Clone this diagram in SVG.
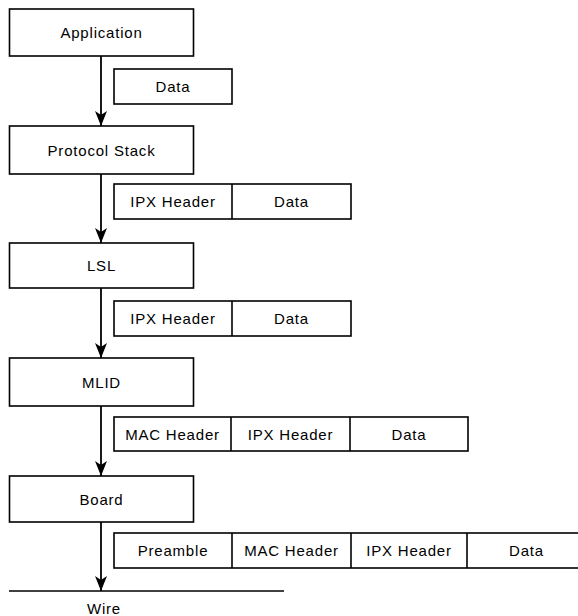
<svg xmlns="http://www.w3.org/2000/svg" width="578" height="616" viewBox="0 0 578 616">
  <style>
    .box { fill: #ffffff; stroke: #000000; stroke-width: 1.6; }
    .div { stroke: #000000; stroke-width: 1.6; fill: none; }
    .lbl { font-family: "Liberation Sans", Arial, sans-serif; font-size: 15px; letter-spacing: 0.8px; fill: #000000; text-anchor: middle; }
    .conn { stroke: #000000; stroke-width: 1.8; fill: none; marker-end: url(#arrow); }
  </style>
  <defs>
    <!-- notched arrowhead; +x follows the line, tip at the line end -->
    <marker id="arrow" markerUnits="userSpaceOnUse" markerWidth="18" markerHeight="14" viewBox="-16 -7 18 14" refX="0" refY="0" orient="auto">
      <path d="M0,0 L-15,-6 L-11,0 L-15,6 Z" fill="#000000"/>
    </marker>
  </defs>
  <rect width="578" height="616" fill="#ffffff"/>

  <!-- layer stack -->
  <g id="application">
    <rect class="box" x="9.5" y="9" width="184" height="47"/>
    <text class="lbl" x="101.5" y="38">Application</text>
  </g>
  <g id="protocol-stack">
    <rect class="box" x="9.5" y="126" width="184" height="48"/>
    <text class="lbl" x="101.5" y="155.5">Protocol Stack</text>
  </g>
  <g id="lsl">
    <rect class="box" x="9.5" y="243" width="184" height="45"/>
    <text class="lbl" x="101.5" y="271">LSL</text>
  </g>
  <g id="mlid">
    <rect class="box" x="9.5" y="358" width="184" height="48"/>
    <text class="lbl" x="101.5" y="387.5">MLID</text>
  </g>
  <g id="board">
    <rect class="box" x="9.5" y="476" width="184" height="46"/>
    <text class="lbl" x="101.5" y="504.5">Board</text>
  </g>
  <g id="wire">
    <line class="div" x1="9" y1="591" x2="284" y2="591"/>
    <text class="lbl" x="104" y="614">Wire</text>
  </g>

  <!-- packet formats between layers -->
  <g id="packet-app">
    <rect class="box" x="114" y="69" width="118" height="35"/>
    <text class="lbl" x="173" y="92">Data</text>
  </g>
  <g id="packet-stack">
    <rect class="box" x="114" y="184" width="237" height="35"/>
    <line class="div" x1="232" y1="184" x2="232" y2="219"/>
    <text class="lbl" x="173" y="207">IPX Header</text>
    <text class="lbl" x="291.5" y="207">Data</text>
  </g>
  <g id="packet-lsl">
    <rect class="box" x="114" y="301" width="237" height="35"/>
    <line class="div" x1="232" y1="301" x2="232" y2="336"/>
    <text class="lbl" x="173" y="324">IPX Header</text>
    <text class="lbl" x="291.5" y="324">Data</text>
  </g>
  <g id="packet-mlid">
    <rect class="box" x="114" y="417" width="354" height="34"/>
    <line class="div" x1="231" y1="417" x2="231" y2="451"/>
    <line class="div" x1="350" y1="417" x2="350" y2="451"/>
    <text class="lbl" x="172.5" y="439.5">MAC Header</text>
    <text class="lbl" x="290.5" y="439.5">IPX Header</text>
    <text class="lbl" x="409" y="439.5">Data</text>
  </g>
  <g id="packet-board">
    <rect class="box" x="114" y="533" width="472" height="35"/>
    <line class="div" x1="232" y1="533" x2="232" y2="568"/>
    <line class="div" x1="351" y1="533" x2="351" y2="568"/>
    <line class="div" x1="467" y1="533" x2="467" y2="568"/>
    <text class="lbl" x="173" y="556">Preamble</text>
    <text class="lbl" x="291.5" y="556">MAC Header</text>
    <text class="lbl" x="409" y="556">IPX Header</text>
    <text class="lbl" x="526.5" y="556">Data</text>
  </g>

  <!-- connectors -->
  <g id="connectors">
    <line class="conn" x1="101" y1="56" x2="101" y2="126"/>
    <line class="conn" x1="101" y1="174" x2="101" y2="243"/>
    <line class="conn" x1="101" y1="288" x2="101" y2="358"/>
    <line class="conn" x1="101" y1="406" x2="101" y2="476"/>
    <line class="conn" x1="101" y1="522" x2="101" y2="591"/>
  </g>
</svg>
